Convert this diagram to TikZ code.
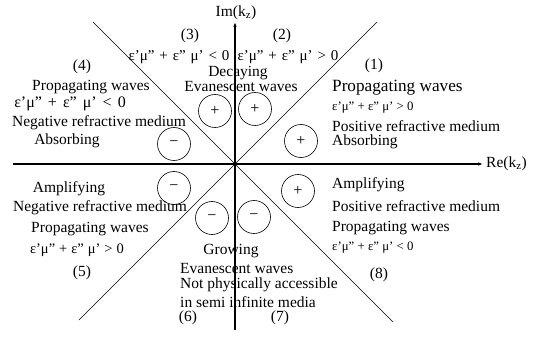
\documentclass[tikz,border=0pt]{standalone}
\usepackage{fontspec}
\setmainfont{Liberation Serif}
\usetikzlibrary{arrows.meta}
\newcommand\frmfontL{\fontsize{16}{19}\selectfont\spaceskip 6pt\relax}
\newcommand\frmfontN{\fontsize{15}{18}\selectfont\spaceskip 4.9pt\relax}
\newcommand\frmfontM{\fontsize{14.5}{17}\selectfont\spaceskip 4pt\relax}
\tikzset{
  axis/.style={line width=1.1pt,-{Latex[length=5pt,width=3.5pt]}},
  diag/.style={line width=0.6pt},
  sgn/.style={draw,circle,line width=0.6pt,minimum size=33pt,inner sep=0pt,font=\fontsize{16}{18}\selectfont},
  lbl/.style={inner sep=0pt,font=\fontsize{15.5}{18}\selectfont},
  big/.style={inner sep=0pt,font=\fontsize{17.2}{20}\selectfont},
  frmL/.style={inner sep=0pt,font=\frmfontL},
  frm/.style={inner sep=0pt,font=\frmfontN},
  frmM/.style={inner sep=0pt,font=\frmfontM},
  frms/.style={inner sep=0pt,font=\fontsize{12.8}{15}\selectfont},
}
\begin{document}
\begin{tikzpicture}[x=1pt,y=-1pt]
\useasboundingbox (0,0) rectangle (543,339);
% axes
\coordinate (O) at (235,164);
\coordinate (xl) at (13,164);
\coordinate (xr) at (483,164);
\coordinate (yb) at (235,330);
\coordinate (yt) at (235,22);
\coordinate (d1a) at (93,22);
\coordinate (d1b) at (393,322);
\coordinate (d2a) at (377,22);
\coordinate (d2b) at (79,320);
\draw[diag] (d1a) -- (d1b);
\draw[diag] (d2a) -- (d2b);
\draw[axis] (xl) -- (xr);
\draw[axis] (yb) -- (yt);
\fill (O) circle (1.6pt);
\node[lbl,anchor=west] (re) at (486,164) {Re(k\textsubscript{z})};
\node[lbl] (im) at (236,13) {Im(k\textsubscript{z})};
% sign circles
\node[sgn] (c1) at (215,111) {+};
\node[sgn] (c2) at (255,109) {+};
\node[sgn] (c3) at (174,144) {−};
\node[sgn] (c4) at (301,141) {+};
\node[sgn] (c5) at (174,188) {−};
\node[sgn] (c6) at (298,191) {+};
\node[sgn] (c7) at (212,218) {−};
\node[sgn] (c8) at (254,217) {−};
% region 3 and 2
\node[lbl] (n3) at (190,36) {(3)};
\node[frm] (f3) at (179,57) {ε’μ” + ε” μ’ < 0};
\node[lbl] (n2) at (282,36) {(2)};
\node[frm] (f2) at (288,57) {ε’μ” + ε” μ’ > 0};
\node[lbl] (dec) at (238,73) {Decaying};
\node[lbl] (ev1) at (241,87) {Evanescent waves};
% region 4
\node[lbl] (n4) at (82,67) {(4)};
\node[lbl] (p4) at (91,87) {Propagating waves};
\node[frmL] (f4) at (70,104) {ε’μ” + ε” μ’ < 0};
\node[lbl] (m4) at (99,123) {Negative refractive medium};
\node[lbl] (a4) at (67,141) {Absorbing};
% region 1
\node[lbl] (n1) at (374,66) {(1)};
\node[big,anchor=west] (p1) at (332,88) {Propagating waves};
\node[frms,anchor=west] (f1) at (332,108) {ε’μ” + ε” μ’ > 0};
\node[lbl,anchor=west] (m1) at (332,126) {Positive refractive medium};
\node[lbl,anchor=west] (a1) at (332,142) {Absorbing};
% region 5
\node[lbl] (a5) at (69,189) {Amplifying};
\node[lbl] (m5) at (100,208) {Negative refractive medium};
\node[lbl] (p5) at (90,229) {Propagating waves};
\node[frmM] (f5) at (77,250) {ε’μ” + ε” μ’ > 0};
\node[lbl] (n5) at (82,273) {(5)};
% region 8
\node[lbl,anchor=west] (a8) at (332,185) {Amplifying};
\node[lbl,anchor=west] (m8) at (332,206) {Positive refractive medium};
\node[lbl,anchor=west] (p8) at (332,228) {Propagating waves};
\node[frms,anchor=west] (f8) at (332,248) {ε’μ” + ε” μ’ < 0};
\node[lbl] (n8) at (379,275) {(8)};
% regions 6 and 7
\node[lbl] (gr) at (231,251) {Growing};
\node[lbl,anchor=west] (ev2) at (180,268) {Evanescent waves};
\node[lbl,anchor=west] (np) at (180,285) {Not physically accessible};
\node[lbl,anchor=west] (sm) at (180,302) {in semi infinite media};
\node[lbl] (n6) at (188,318) {(6)};
\node[lbl] (n7) at (280,318) {(7)};
\end{tikzpicture}
\end{document}
